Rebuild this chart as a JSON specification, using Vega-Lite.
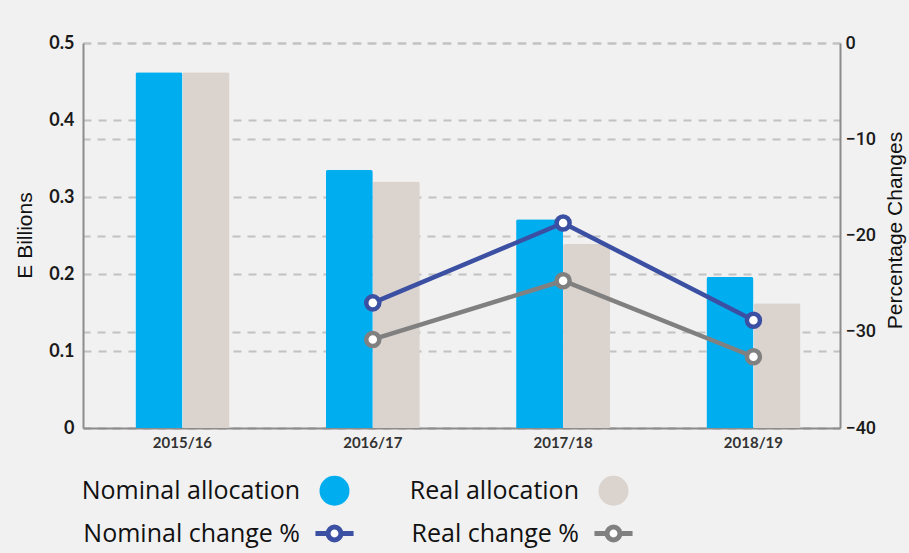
{
  "$schema": "https://vega.github.io/schema/vega-lite/v6.json",
  "width": 757,
  "height": 385,
  "autosize": {"type": "none"},
  "padding": {"left": 83, "top": 43, "right": 69, "bottom": 125},
  "background": "#f1f1f1",
  "config": {"view": {"stroke": null}},
  "datasets": {
    "alloc": [
      {"year": "2015/16", "series": "Nominal allocation", "value": 0.462},
      {"year": "2015/16", "series": "Real allocation", "value": 0.462},
      {"year": "2016/17", "series": "Nominal allocation", "value": 0.335},
      {"year": "2016/17", "series": "Real allocation", "value": 0.32},
      {"year": "2017/18", "series": "Nominal allocation", "value": 0.271},
      {"year": "2017/18", "series": "Real allocation", "value": 0.239},
      {"year": "2018/19", "series": "Nominal allocation", "value": 0.196},
      {"year": "2018/19", "series": "Real allocation", "value": 0.162}
    ],
    "change": [
      {"year": "2016/17", "series": "Nominal change %", "value": -27.0},
      {"year": "2017/18", "series": "Nominal change %", "value": -18.7},
      {"year": "2018/19", "series": "Nominal change %", "value": -28.8},
      {"year": "2016/17", "series": "Real change %", "value": -30.8},
      {"year": "2017/18", "series": "Real change %", "value": -24.7},
      {"year": "2018/19", "series": "Real change %", "value": -32.6}
    ]
  },
  "layer": [
    {
      "data": {"name": "alloc"},
      "mark": {"type": "bar", "cornerRadiusTopLeft": 2, "cornerRadiusTopRight": 2},
      "encoding": {
        "x": {
          "field": "year",
          "type": "nominal",
          "scale": {"paddingInner": 0.506, "paddingOuter": 0.2417, "align": 0.57},
          "axis": {
            "title": null,
            "labelAngle": 0,
            "labelFont": "Lato",
            "labelFontWeight": "bold",
            "labelFontSize": 15,
            "labelColor": "#333333",
            "labelPadding": 7,
            "ticks": false,
            "domainColor": "#8c8c8c",
            "domainWidth": 2,
            "grid": false
          }
        },
        "xOffset": {"field": "series", "type": "nominal"},
        "y": {
          "field": "value",
          "type": "quantitative",
          "scale": {"domain": [0, 0.5]},
          "axis": {
            "orient": "left",
            "values": [0, 0.1, 0.2, 0.3, 0.4, 0.5],
            "format": "~g",
            "labelFont": "Lato",
            "labelFontWeight": "bold",
            "labelFontSize": 18,
            "labelColor": "#1a1a1a",
            "labelPadding": 9,
            "ticks": false,
            "domainColor": "#8c8c8c",
            "domainWidth": 2,
            "grid": true,
            "gridColor": "#c2c2c2",
            "gridDash": [8, 7],
            "gridWidth": 2,
            "title": "E Billions",
            "titleFont": "Liberation Sans",
            "titleFontSize": 21,
            "titleFontWeight": "normal",
            "titleColor": "#111111",
            "titleAngle": 270,
            "titleX": -52,
            "titleY": 192,
            "titleAlign": "center",
            "titleBaseline": "alphabetic"
          }
        },
        "color": {
          "field": "series",
          "type": "nominal",
          "scale": {
            "domain": ["Nominal allocation", "Real allocation", "Nominal change %", "Real change %"],
            "range": ["#00aeef", "#dbd3cd", "#ffffff", "#ffffff"]
          },
          "legend": {
            "orient": "none",
            "legendX": 234,
            "legendY": 430,
            "columns": 2,
            "direction": "horizontal",
            "title": null,
            "padding": 0,
            "labelFont": "Open Sans",
            "labelFontSize": 25,
            "labelColor": "#111111",
            "labelAlign": "right",
            "labelOffset": -52,
            "labelLimit": 400,
            "symbolSize": 900,
            "symbolStrokeWidth": 5,
            "columnPadding": 45,
            "rowPadding": 0,
            "encode": {
              "symbols": {
                "update": {
                  "shape": {"signal": "indexof(datum.value, 'change') >= 0 ? 'M-1.27,0H-0.43M0.43,0H1.27M-0.43,0A0.43,0.43 0 1,0 0.43,0A0.43,0.43 0 1,0 -0.43,0' : 'circle'"},
                  "fill": {"signal": "datum.value == 'Nominal allocation' ? '#00aeef' : datum.value == 'Real allocation' ? '#dbd3cd' : '#ffffff'"},
                  "stroke": {"signal": "datum.value == 'Nominal change %' ? '#3b4fa3' : datum.value == 'Real change %' ? '#808080' : 'transparent'"},
                  "strokeWidth": {"value": 5},
                  "opacity": {"value": 1}
                }
              }
            }
          }
        }
      }
    },
    {
      "data": {"name": "change"},
      "encoding": {
        "x": {"field": "year", "type": "nominal"},
        "y": {
          "field": "value",
          "type": "quantitative",
          "scale": {"domain": [-40, 0]},
          "axis": {
            "orient": "right",
            "values": [0, -10, -20, -30, -40],
            "labelFont": "Roboto",
            "labelFontWeight": 500,
            "labelFontSize": 18,
            "labelColor": "#1a1a1a",
            "labelPadding": 5,
            "ticks": false,
            "domainColor": "#8c8c8c",
            "domainWidth": 2,
            "grid": true,
            "gridColor": "#c2c2c2",
            "gridDash": [8, 7],
            "gridWidth": 2,
            "title": "Percentage Changes",
            "titleFont": "Liberation Sans",
            "titleFontSize": 21,
            "titleFontWeight": "normal",
            "titleColor": "#111111",
            "titleAngle": 270,
            "titleX": 61,
            "titleY": 187,
            "titleAlign": "center",
            "titleBaseline": "alphabetic"
          }
        },
        "stroke": {
          "field": "series",
          "type": "nominal",
          "scale": {"domain": ["Nominal change %", "Real change %"], "range": ["#3b4fa3", "#808080"]},
          "legend": null
        }
      },
      "layer": [
        {"mark": {"type": "line", "strokeWidth": 4.5}},
        {"mark": {"type": "point", "filled": false, "fill": "#ffffff", "size": 170, "strokeWidth": 4.5, "opacity": 1}}
      ]
    }
  ],
  "resolve": {"scale": {"y": "independent"}}
}
